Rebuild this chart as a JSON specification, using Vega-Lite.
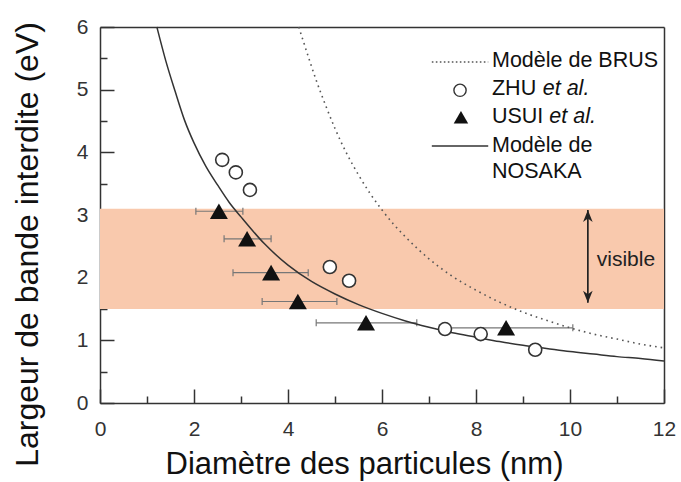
{
  "$schema": "https://vega.github.io/schema/vega-lite/v6.json",
  "width": 564,
  "height": 376,
  "autosize": {"type": "none"},
  "padding": {"left": 100, "top": 27, "right": 17, "bottom": 79},
  "background": "white",
  "config": {
    "view": {"stroke": null},
    "font": "Liberation Sans",
    "axis": {
      "domainColor": "#333",
      "domainWidth": 1.5,
      "tickColor": "#333",
      "tickWidth": 1.5,
      "labelFont": "Liberation Sans",
      "labelFontSize": 21,
      "labelColor": "#333",
      "titleFont": "Liberation Sans",
      "titleFontSize": 31,
      "titleFontWeight": "normal",
      "titleColor": "#111",
      "grid": false,
      "zindex": 1,
      "labelFlush": false,
      "labelOverlap": false
    }
  },
  "datasets": {
    "band": [{"ymin": 1.5, "ymax": 3.1}],
    "nosaka": [
      {"d": 1.21, "e": 6.0}, {"d": 1.4, "e": 5.46}, {"d": 1.6, "e": 4.97}, {"d": 1.8, "e": 4.51},
      {"d": 2.0, "e": 4.15}, {"d": 2.25, "e": 3.78}, {"d": 2.5, "e": 3.48}, {"d": 2.75, "e": 3.2},
      {"d": 3.0, "e": 2.97}, {"d": 3.5, "e": 2.54}, {"d": 4.0, "e": 2.2}, {"d": 4.5, "e": 1.94},
      {"d": 5.0, "e": 1.74}, {"d": 5.5, "e": 1.57}, {"d": 6.0, "e": 1.43}, {"d": 6.5, "e": 1.31},
      {"d": 7.0, "e": 1.21}, {"d": 7.5, "e": 1.12}, {"d": 8.0, "e": 1.05}, {"d": 8.5, "e": 0.98},
      {"d": 9.0, "e": 0.92}, {"d": 9.5, "e": 0.87}, {"d": 10.0, "e": 0.82}, {"d": 10.5, "e": 0.78},
      {"d": 11.0, "e": 0.74}, {"d": 11.5, "e": 0.71}, {"d": 12.0, "e": 0.67}
    ],
    "brus": [
      {"d": 4.23, "e": 6.0}, {"d": 4.4, "e": 5.6}, {"d": 4.6, "e": 5.15}, {"d": 4.8, "e": 4.75},
      {"d": 5.0, "e": 4.38}, {"d": 5.25, "e": 3.98}, {"d": 5.5, "e": 3.64}, {"d": 5.75, "e": 3.34},
      {"d": 6.0, "e": 3.08}, {"d": 6.25, "e": 2.85}, {"d": 6.5, "e": 2.65}, {"d": 7.0, "e": 2.3},
      {"d": 7.5, "e": 2.02}, {"d": 8.0, "e": 1.8}, {"d": 8.5, "e": 1.61}, {"d": 9.0, "e": 1.45},
      {"d": 9.5, "e": 1.32}, {"d": 10.0, "e": 1.2}, {"d": 10.5, "e": 1.1}, {"d": 11.0, "e": 1.02},
      {"d": 11.5, "e": 0.94}, {"d": 12.0, "e": 0.88}
    ],
    "zhu": [
      {"d": 2.6, "e": 3.88}, {"d": 2.89, "e": 3.68}, {"d": 3.19, "e": 3.4}, {"d": 4.89, "e": 2.17},
      {"d": 5.3, "e": 1.95}, {"d": 7.34, "e": 1.18}, {"d": 8.1, "e": 1.1}, {"d": 9.26, "e": 0.85}
    ],
    "usui": [
      {"d": 2.53, "e": 3.06, "dmin": 2.04, "dmax": 3.04},
      {"d": 3.13, "e": 2.62, "dmin": 2.64, "dmax": 3.64},
      {"d": 3.64, "e": 2.08, "dmin": 2.83, "dmax": 4.43},
      {"d": 4.21, "e": 1.62, "dmin": 3.45, "dmax": 5.04},
      {"d": 5.66, "e": 1.28, "dmin": 4.6, "dmax": 6.74},
      {"d": 8.64, "e": 1.2, "dmin": 7.22, "dmax": 10.06}
    ],
    "legendLines": [
      {"x1": 7.06, "x2": 8.26, "y": 5.44, "kind": "BRUS"},
      {"x1": 7.06, "x2": 8.26, "y": 4.1, "kind": "NOSAKA"}
    ],
    "legendText": [
      {"x": 8.34, "y": 5.36, "t": "Modèle de BRUS", "it": false},
      {"x": 8.34, "y": 4.91, "t": "ZHU", "it": false},
      {"x": 9.42, "y": 4.91, "t": "et al.", "it": true},
      {"x": 8.34, "y": 4.47, "t": "USUI", "it": false},
      {"x": 9.56, "y": 4.47, "t": "et al.", "it": true},
      {"x": 8.34, "y": 4.0, "t": "Modèle de", "it": false},
      {"x": 8.34, "y": 3.59, "t": "NOSAKA", "it": false}
    ],
    "legendZhu": [{"x": 7.66, "y": 4.99}],
    "legendUsui": [{"x": 7.68, "y": 4.56}],
    "arrow": [{"x": 10.38, "ytop": 3.08, "ybot": 1.6}],
    "note": [{"x": 10.57, "y": 2.28, "t": "visible"}],
    "frame": [{"x": 0, "y": 0}]
  },
  "layer": [
    {
      "layer": [
        {
          "data": {"name": "band"},
          "mark": {"type": "rect", "color": "#f9c9ad"},
          "encoding": {
            "y": {"field": "ymin", "type": "quantitative", "scale": {"domain": [0, 6], "nice": false, "zero": false}, "axis": null},
            "y2": {"field": "ymax"}
          }
        },
        {
          "data": {"name": "usui"},
          "mark": {"type": "rule", "color": "#777", "strokeWidth": 1.2},
          "encoding": {
            "x": {"field": "dmin", "type": "quantitative", "scale": {"domain": [0, 12], "nice": false, "zero": false}, "axis": null},
            "x2": {"field": "dmax"},
            "y": {"field": "e", "type": "quantitative", "axis": null}
          }
        },
        {
          "data": {"name": "usui"},
          "mark": {"type": "point", "shape": "M0,-1L0,1", "size": 49, "filled": false, "stroke": "#777", "strokeWidth": 1.2, "opacity": 1},
          "encoding": {
            "x": {"field": "dmin", "type": "quantitative", "axis": null},
            "y": {"field": "e", "type": "quantitative", "axis": null}
          }
        },
        {
          "data": {"name": "usui"},
          "mark": {"type": "point", "shape": "M0,-1L0,1", "size": 49, "filled": false, "stroke": "#777", "strokeWidth": 1.2, "opacity": 1},
          "encoding": {
            "x": {"field": "dmax", "type": "quantitative", "axis": null},
            "y": {"field": "e", "type": "quantitative", "axis": null}
          }
        },
        {
          "data": {"name": "brus"},
          "mark": {"type": "line", "color": "#555", "strokeWidth": 1.6, "strokeDash": [1.6, 4], "interpolate": "monotone"},
          "encoding": {
            "x": {"field": "d", "type": "quantitative", "axis": null},
            "y": {"field": "e", "type": "quantitative", "axis": null}
          }
        },
        {
          "data": {"name": "nosaka"},
          "mark": {"type": "line", "color": "#333", "strokeWidth": 1.5, "interpolate": "monotone"},
          "encoding": {
            "x": {"field": "d", "type": "quantitative", "axis": null},
            "y": {"field": "e", "type": "quantitative", "axis": null}
          }
        },
        {
          "data": {"name": "zhu"},
          "mark": {"type": "point", "shape": "circle", "size": 170, "filled": true, "fill": "white", "stroke": "#333", "strokeWidth": 1.6, "opacity": 1},
          "encoding": {
            "x": {"field": "d", "type": "quantitative", "axis": null},
            "y": {"field": "e", "type": "quantitative", "axis": null}
          }
        },
        {
          "data": {"name": "usui"},
          "mark": {"type": "point", "shape": "triangle-up", "size": 324, "filled": true, "fill": "#111", "stroke": null, "opacity": 1},
          "encoding": {
            "x": {"field": "d", "type": "quantitative", "axis": null},
            "y": {"field": "e", "type": "quantitative", "axis": null}
          }
        },
        {
          "data": {"name": "legendLines"},
          "transform": [{"filter": "datum.kind === 'BRUS'"}],
          "mark": {"type": "rule", "color": "#555", "strokeWidth": 1.5, "strokeDash": [1.6, 2.4]},
          "encoding": {
            "x": {"field": "x1", "type": "quantitative", "axis": null},
            "x2": {"field": "x2"},
            "y": {"field": "y", "type": "quantitative", "axis": null}
          }
        },
        {
          "data": {"name": "legendLines"},
          "transform": [{"filter": "datum.kind === 'NOSAKA'"}],
          "mark": {"type": "rule", "color": "#333", "strokeWidth": 1.5},
          "encoding": {
            "x": {"field": "x1", "type": "quantitative", "axis": null},
            "x2": {"field": "x2"},
            "y": {"field": "y", "type": "quantitative", "axis": null}
          }
        },
        {
          "data": {"name": "legendZhu"},
          "mark": {"type": "point", "shape": "circle", "size": 150, "filled": true, "fill": "white", "stroke": "#333", "strokeWidth": 1.4, "opacity": 1},
          "encoding": {
            "x": {"field": "x", "type": "quantitative", "axis": null},
            "y": {"field": "y", "type": "quantitative", "axis": null}
          }
        },
        {
          "data": {"name": "legendUsui"},
          "mark": {"type": "point", "shape": "triangle-up", "size": 210, "filled": true, "fill": "#111", "stroke": null, "opacity": 1},
          "encoding": {
            "x": {"field": "x", "type": "quantitative", "axis": null},
            "y": {"field": "y", "type": "quantitative", "axis": null}
          }
        },
        {
          "data": {"name": "legendText"},
          "transform": [{"filter": "!datum.it"}],
          "mark": {"type": "text", "align": "left", "baseline": "alphabetic", "fontSize": 21.5, "color": "#111", "font": "Liberation Sans"},
          "encoding": {
            "x": {"field": "x", "type": "quantitative", "axis": null},
            "y": {"field": "y", "type": "quantitative", "axis": null},
            "text": {"field": "t"}
          }
        },
        {
          "data": {"name": "legendText"},
          "transform": [{"filter": "datum.it"}],
          "mark": {"type": "text", "align": "left", "baseline": "alphabetic", "fontSize": 21.5, "fontStyle": "italic", "color": "#111", "font": "Liberation Sans"},
          "encoding": {
            "x": {"field": "x", "type": "quantitative", "axis": null},
            "y": {"field": "y", "type": "quantitative", "axis": null},
            "text": {"field": "t"}
          }
        },
        {
          "data": {"name": "arrow"},
          "mark": {"type": "rule", "color": "#222", "strokeWidth": 1.7},
          "encoding": {
            "x": {"field": "x", "type": "quantitative", "axis": null},
            "y": {"field": "ybot", "type": "quantitative", "axis": null},
            "y2": {"field": "ytop"}
          }
        },
        {
          "data": {"name": "arrow"},
          "mark": {"type": "point", "shape": "M0,0L0.8,2L0,1.4L-0.8,2Z", "size": 144, "filled": true, "fill": "#222", "stroke": null, "opacity": 1},
          "encoding": {
            "x": {"field": "x", "type": "quantitative", "axis": null},
            "y": {"field": "ytop", "type": "quantitative", "axis": null}
          }
        },
        {
          "data": {"name": "arrow"},
          "mark": {"type": "point", "shape": "M0,0L0.8,-2L0,-1.4L-0.8,-2Z", "size": 144, "filled": true, "fill": "#222", "stroke": null, "opacity": 1},
          "encoding": {
            "x": {"field": "x", "type": "quantitative", "axis": null},
            "y": {"field": "ybot", "type": "quantitative", "axis": null}
          }
        },
        {
          "data": {"name": "note"},
          "mark": {"type": "text", "align": "left", "baseline": "middle", "fontSize": 21, "color": "#222", "font": "Liberation Sans"},
          "encoding": {
            "x": {"field": "x", "type": "quantitative", "axis": null},
            "y": {"field": "y", "type": "quantitative", "axis": null},
            "text": {"field": "t"}
          }
        }
      ]
    },
    {
      "data": {"name": "frame"},
      "mark": {"type": "point", "opacity": 0},
      "encoding": {
        "x": {
          "field": "x", "type": "quantitative",
          "scale": {"domain": [0, 12], "nice": false, "zero": false},
          "axis": {
            "orient": "bottom",
            "values": [0, 2, 4, 6, 8, 10, 12],
            "tickSize": -14,
            "labelPadding": 29,
            "labelBaseline": "top",
            "title": "Diamètre des particules (nm)",
            "titleX": 264,
            "titleY": 70,
            "titleAlign": "center",
            "titleBaseline": "alphabetic"
          }
        },
        "y": {
          "field": "y", "type": "quantitative",
          "scale": {"domain": [0, 6], "nice": false, "zero": false},
          "axis": {
            "orient": "left",
            "values": [0, 1, 2, 3, 4, 5, 6],
            "tickSize": -14,
            "labelPadding": 26,
            "title": "Largeur de bande interdite (eV)",
            "titleFontSize": 32,
            "titleX": -63,
            "titleY": 217,
            "titleAngle": -90,
            "titleAlign": "center",
            "titleBaseline": "alphabetic"
          }
        }
      }
    },
    {
      "data": {"name": "frame"},
      "mark": {"type": "point", "opacity": 0},
      "encoding": {
        "x": {
          "field": "x", "type": "quantitative",
          "scale": {"domain": [0, 12], "nice": false, "zero": false},
          "axis": {"orient": "bottom", "values": [1, 3, 5, 7, 9, 11], "tickSize": -7, "labels": false, "domain": false, "title": null}
        },
        "y": {
          "field": "y", "type": "quantitative",
          "scale": {"domain": [0, 6], "nice": false, "zero": false},
          "axis": {"orient": "left", "values": [0.5, 1.5, 2.5, 3.5, 4.5, 5.5], "tickSize": -7, "labels": false, "domain": false, "title": null}
        }
      }
    },
    {
      "data": {"name": "frame"},
      "mark": {"type": "point", "opacity": 0},
      "encoding": {
        "x": {
          "field": "x", "type": "quantitative",
          "scale": {"domain": [0, 12], "nice": false, "zero": false},
          "axis": {"orient": "top", "ticks": false, "labels": false, "domain": true, "title": null}
        },
        "y": {
          "field": "y", "type": "quantitative",
          "scale": {"domain": [0, 6], "nice": false, "zero": false},
          "axis": {"orient": "right", "ticks": false, "labels": false, "domain": true, "title": null}
        }
      }
    }
  ],
  "resolve": {"axis": {"x": "independent", "y": "independent"}}
}
